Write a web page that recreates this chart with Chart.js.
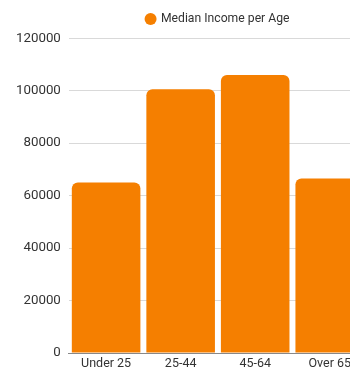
<!DOCTYPE html>
<html>
<head>
<meta charset="utf-8">
<script src="https://cdn.jsdelivr.net/npm/chart.js@4/dist/chart.umd.min.js"></script>
<style>
  html, body { margin: 0; padding: 0; overflow: hidden; background: #fff; }
  #wrap { width: 380px; height: 374px; position: relative; }
</style>
</head>
<body>
<div id="wrap"><canvas id="chart"></canvas></div>
<script>
// chart values
var ageGroups = ['Under 25', '25-44', '45-64', 'Over 65'];
var medianIncome = [65000, 100500, 106000, 66500];
var seriesName = 'Median Income per Age';

var barColor = '#F57F00';
var textColor = '#333333';
var fontName = 'Roboto';

// a bit more room under the legend
var legendSpace = {
  id: 'legendSpace',
  beforeInit: function(chart) {
    var origFit = chart.legend.fit;
    chart.legend.fit = function() {
      origFit.bind(chart.legend)();
      this.height += 3;
    };
  }
};

var ctx = document.getElementById('chart').getContext('2d');
var mchart = new Chart(ctx, {
  type: 'bar',
  data: {
    labels: ageGroups,
    datasets: [
      {
        label: seriesName,
        data: medianIncome,
        backgroundColor: barColor,
        borderRadius: 6,
        categoryPercentage: 0.92,
        barPercentage: 1
      }
    ]
  },
  options: {
    responsive: true,
    maintainAspectRatio: false,
    animation: false,
    layout: {
      padding: { left: 8, right: 13, top: 5 }
    },
    scales: {
      x: {
        grid: { display: false, drawTicks: false },
        border: { display: true, color: '#888888' },
        ticks: {
          color: textColor,
          padding: 3,
          font: { family: fontName, size: 12.5 }
        }
      },
      y: {
        min: 0,
        max: 120000,
        ticks: {
          stepSize: 20000,
          color: textColor,
          padding: 8,
          font: { family: fontName, size: 13.3 },
          callback: function(value) {
            return String(value);
          }
        },
        grid: {
          color: '#d9d9d9',
          drawTicks: false
        },
        border: { display: false }
      }
    },
    plugins: {
      legend: {
        display: true,
        position: 'top',
        fullSize: false,
        labels: {
          usePointStyle: true,
          pointStyle: 'circle',
          boxWidth: 8.5,
          boxHeight: 8.5,
          color: textColor,
          padding: 8,
          font: { family: fontName, size: 12.2 }
        }
      },
      tooltip: { enabled: false }
    }
  },
  plugins: [legendSpace]
});
</script>
</body>
</html>
